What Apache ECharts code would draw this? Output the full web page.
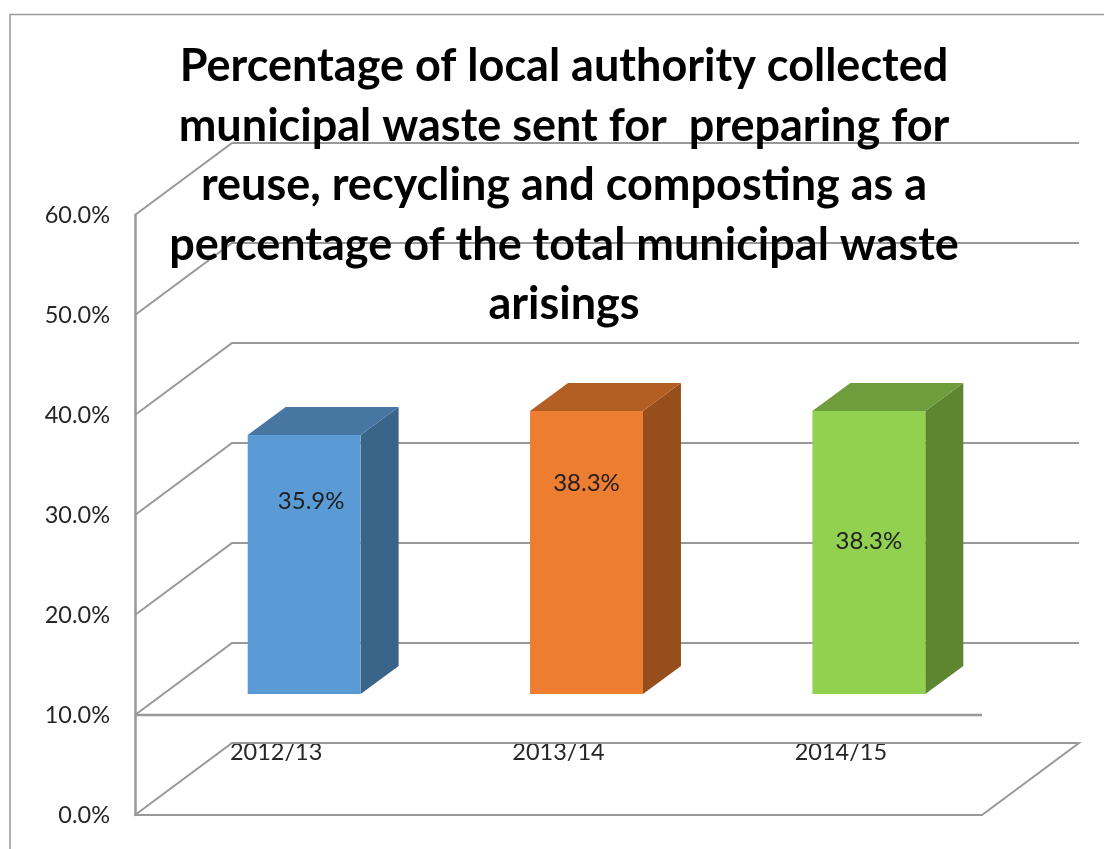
<!DOCTYPE html>
<html>
<head>
<meta charset="utf-8">
<title>Municipal waste</title>
<script src="https://cdn.jsdelivr.net/npm/echarts@6/dist/echarts.min.js"></script>
<style>
  html, body { margin: 0; padding: 0; background: #fff; }
  #chart { width: 1104px; height: 849px; }
</style>
</head>
<body>
<div id="chart"></div>
<script>
const categories = ['2012/13', '2013/14', '2014/15']
const values = [35.9, 38.3, 38.3]
const gridValues = [0, 10, 20, 30, 40, 50, 60]
const barFloor = 10
const titleLines = [
  'Percentage of local authority collected',
  'municipal waste sent for  preparing for',
  'reuse, recycling and composting as a',
  'percentage of the total municipal waste',
  'arisings',
]

// front, top, side face of each bar
const barColors = [
  ['#5b9bd5', '#4776a3', '#3b6489'],
  ['#ed7d31', '#b35e22', '#964f1c'],
  ['#92d050', '#6f9c3d', '#5e8530'],
]
// label position relative to the top middle of the bar's front face
const labelOffsets = [[7, 66], [0, 72], [0, 130]]

const FONT = 'Lato, "Open Sans", sans-serif'
const LINE = '#999999'
const WALL = [97, -72]
const BAR_SHIFT = [28, -21]
const BAR_DEPTH = [38, -28]

const chart = echarts.init(document.getElementById('chart'), null, { renderer: 'canvas' })

function renderGrid(params, api) {
  const cs = params.coordSys
  const v = api.value(1)
  const y = api.coord([0, v])[1]
  const left = cs.x
  const right = cs.x + cs.width
  const points = [
    [left, y],
    [left + WALL[0], y + WALL[1]],
    [right + WALL[0], y + WALL[1]],
  ]
  if (v === 0) points.push([right, y])
  const children = [{
    type: 'polyline',
    shape: { points },
    style: { stroke: LINE, lineWidth: 2, fill: null },
  }]
  if (v === barFloor) {
    children.push({
      type: 'line',
      shape: { x1: left, y1: y, x2: right, y2: y },
      style: { stroke: LINE, lineWidth: 2.5 },
    })
  }
  return { type: 'group', children }
}

function renderBar(params, api) {
  const i = params.dataIndex
  const v = api.value(1)
  const w = api.size([1, 0])[0] * 0.4
  const cx = api.coord([i, 0])[0] + BAR_SHIFT[0]
  const top = api.coord([i, v])[1] + BAR_SHIFT[1]
  const bottom = api.coord([i, barFloor])[1] + BAR_SHIFT[1]
  const x0 = cx - w / 2
  const x1 = cx + w / 2
  const dx = BAR_DEPTH[0]
  const dy = BAR_DEPTH[1]
  const c = barColors[i]
  return {
    type: 'group',
    children: [
      {
        type: 'polygon',
        shape: { points: [[x1, top], [x1 + dx, top + dy], [x1 + dx, bottom + dy], [x1, bottom]] },
        style: { fill: c[2] },
      },
      {
        type: 'polygon',
        shape: { points: [[x0, top], [x0 + dx, top + dy], [x1 + dx, top + dy], [x1, top]] },
        style: { fill: c[1] },
      },
      {
        type: 'rect',
        shape: { x: x0, y: top, width: w, height: bottom - top },
        style: { fill: c[0] },
      },
      {
        type: 'text',
        style: {
          x: cx + labelOffsets[i][0],
          y: top + labelOffsets[i][1],
          text: v.toFixed(1) + '%',
          font: '24px ' + FONT,
          fill: '#1f1f1f',
          align: 'center',
          verticalAlign: 'middle',
        },
      },
    ],
  }
}

chart.setOption({
  animation: false,
  backgroundColor: '#fff',
  title: {
    text: titleLines.join('\n'),
    left: 559,
    top: 32,
    textAlign: 'center',
    textStyle: {
      fontFamily: FONT,
      fontWeight: 'bold',
      fontSize: 45,
      lineHeight: 59.5,
      color: '#000',
    },
  },
  grid: { left: 135, top: 215, width: 847, height: 600 },
  xAxis: {
    type: 'category',
    data: categories,
    axisTick: { show: false },
    axisLine: { lineStyle: { color: LINE, width: 2 } },
    axisLabel: {
      inside: true,
      margin: 51,
      fontFamily: FONT,
      fontSize: 23.5,
      color: '#262626',
    },
  },
  yAxis: {
    type: 'value',
    min: 0,
    max: 60,
    interval: 10,
    splitLine: { show: false },
    axisTick: { show: false },
    axisLine: { show: true, lineStyle: { color: LINE, width: 2.5 } },
    axisLabel: {
      margin: 25,
      fontFamily: FONT,
      fontSize: 23.5,
      color: '#262626',
      formatter: (v) => v.toFixed(1) + '%',
    },
  },
  graphic: [
    {
      type: 'polyline',
      shape: { points: [[10, 849], [10, 14.5], [1104, 14.5]] },
      style: { stroke: LINE, lineWidth: 1.5, fill: null },
      silent: true,
    },
  ],
  series: [
    {
      type: 'custom',
      renderItem: renderGrid,
      data: gridValues.map((v) => [0, v]),
      silent: true,
      z: 1,
    },
    {
      type: 'custom',
      renderItem: renderBar,
      data: values.map((v, i) => [i, v]),
      silent: true,
      z: 3,
    },
  ],
})
</script>
</body>
</html>
